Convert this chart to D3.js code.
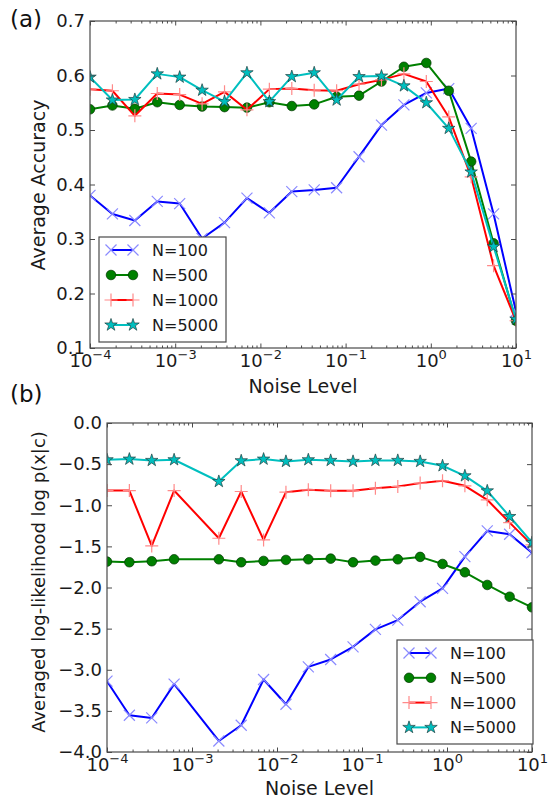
<!DOCTYPE html>
<html>
<head>
<meta charset="utf-8">
<script src="https://cdn.jsdelivr.net/npm/d3@7"></script>
<style>
  html, body { margin: 0; padding: 0; background: #fff; }
  svg { display: block; font-family: "DejaVu Sans", sans-serif; }
</style>
</head>
<body>
<svg id="fig" width="550" height="799"></svg>
<script>
// Noise levels (log-spaced from 1e-4 to 1e1)
const noiseA = [1.000e-4, 1.833e-4, 3.360e-4, 6.158e-4, 1.129e-3, 2.069e-3, 3.793e-3, 6.952e-3,
                1.274e-2, 2.336e-2, 4.281e-2, 7.848e-2, 0.1438, 0.2637, 0.4833, 0.8859,
                1.624, 2.976, 5.456, 10.0];
// Log-likelihood runs have no entry at 1.129e-3
const noiseB = [1.000e-4, 1.833e-4, 3.360e-4, 6.158e-4, 2.069e-3, 3.793e-3, 6.952e-3,
                1.274e-2, 2.336e-2, 4.281e-2, 7.848e-2, 0.1438, 0.2637, 0.4833, 0.8859,
                1.624, 2.976, 5.456, 10.0];

const seriesNames = ["N=100", "N=500", "N=1000", "N=5000"];

// (a) average accuracy
const acc100  = [0.380, 0.346, 0.334, 0.369, 0.365, 0.301, 0.330, 0.375, 0.348, 0.387,
                 0.390, 0.394, 0.451, 0.509, 0.546, 0.568, 0.576, 0.503, 0.346, 0.167];
const acc500  = [0.538, 0.545, 0.539, 0.551, 0.546, 0.543, 0.542, 0.541, 0.551, 0.544,
                 0.547, 0.561, 0.563, 0.589, 0.616, 0.623, 0.572, 0.442, 0.292, 0.150];
const acc1000 = [0.575, 0.572, 0.526, 0.567, 0.565, 0.548, 0.570, 0.537, 0.575, 0.576,
                 0.573, 0.572, 0.584, 0.592, 0.603, 0.589, 0.524, 0.414, 0.251, 0.150];
const acc5000 = [0.597, 0.555, 0.556, 0.603, 0.597, 0.573, 0.552, 0.605, 0.552, 0.598,
                 0.605, 0.555, 0.598, 0.599, 0.581, 0.550, 0.503, 0.423, 0.286, 0.153];

// (b) averaged log-likelihood log p(x|c)
const ll100  = [-3.139, -3.553, -3.586, -3.175, -3.866, -3.675, -3.118, -3.419, -2.965, -2.875,
                -2.721, -2.509, -2.396, -2.173, -2.010, -1.625, -1.312, -1.352, -1.576];
const ll500  = [-1.685, -1.693, -1.681, -1.657, -1.657, -1.693, -1.677, -1.665, -1.657, -1.649,
                -1.693, -1.673, -1.657, -1.628, -1.714, -1.815, -1.969, -2.112, -2.241];
const ll1000 = [-0.821, -0.821, -1.494, -0.821, -1.401, -0.833, -1.421, -0.841, -0.812, -0.825,
                -0.825, -0.792, -0.772, -0.731, -0.703, -0.764, -0.934, -1.211, -1.482];
const ll5000 = [-0.447, -0.439, -0.455, -0.447, -0.711, -0.459, -0.439, -0.467, -0.447, -0.455,
                -0.467, -0.455, -0.455, -0.467, -0.520, -0.642, -0.825, -1.137, -1.454];

// Axis ticks
const xTicks   = [1e-4, 1e-3, 1e-2, 1e-1, 1e0, 1e1];
const accTicks = [0.1, 0.2, 0.3, 0.4, 0.5, 0.6, 0.7];
const llTicks  = [0.0, -0.5, -1.0, -1.5, -2.0, -2.5, -3.0, -3.5, -4.0];

// Line / marker styles per series
const styles = [
  { line: "#0000ff", marker: "x",      mstroke: "#8a8aff", mfill: "none" },
  { line: "#008000", marker: "circle", mstroke: "#003300", mfill: "#008000" },
  { line: "#ff0000", marker: "plus",   mstroke: "#ff8a8a", mfill: "none" },
  { line: "#00bfbf", marker: "star",   mstroke: "#1f3f3f", mfill: "#00bfbf" }
];

const svg = d3.select("#fig");
const FRAME = "#4a4a4a";

// minor ticks on the log axis: 2..9 × each decade
const xMinor = [];
for (let e = -4; e < 1; e++) for (let k = 2; k <= 9; k++) xMinor.push(k * Math.pow(10, e));

function drawMarker(g, kind, st) {
  if (kind === "x") {
    g.append("path").attr("d", "M-5.5,-5.5L5.5,5.5M-5.5,5.5L5.5,-5.5")
      .attr("stroke", st.mstroke).attr("stroke-width", 1.2).attr("fill", "none");
  } else if (kind === "plus") {
    g.append("path").attr("d", "M-6.5,0H6.5M0,-6.5V6.5")
      .attr("stroke", st.mstroke).attr("stroke-width", 1.2).attr("fill", "none");
  } else if (kind === "circle") {
    g.append("circle").attr("r", 4.8)
      .attr("fill", st.mfill).attr("stroke", st.mstroke).attr("stroke-width", 0.7);
  } else {
    g.append("path").attr("d", d3.symbol(d3.symbolStar, 48)())
      .attr("fill", st.mfill).attr("stroke", st.mstroke).attr("stroke-width", 0.7);
  }
}

function drawPanel(cfg) {
  const { left, right, top, bottom, id } = cfg;
  const x = d3.scaleLog().domain([1e-4, 10]).range([left, right]);
  const y = d3.scaleLinear().domain(cfg.yDomain).range([bottom, top]);

  const clipId = "clip-" + id;
  svg.append("clipPath").attr("id", clipId)
    .append("rect").attr("x", left).attr("y", top)
    .attr("width", right - left).attr("height", bottom - top);

  // series
  const plot = svg.append("g").attr("clip-path", `url(#${clipId})`);
  const line = d3.line().x(d => x(d[0])).y(d => y(d[1]));
  cfg.series.forEach((vals, si) => {
    const st = styles[si];
    const pts = vals.map((v, i) => [cfg.xs[i], v]);
    plot.append("path").datum(pts).attr("d", line)
      .attr("fill", "none").attr("stroke", st.line).attr("stroke-width", 2)
      .attr("stroke-linejoin", "round");
    pts.forEach(p => {
      const mg = plot.append("g").attr("transform", `translate(${x(p[0])},${y(p[1])})`);
      drawMarker(mg, st.marker, st);
    });
  });

  // axes (ticks pointing inward on all four sides)
  const fmtY = d3.format(".1f");
  const gx = svg.append("g").attr("transform", `translate(0,${bottom})`)
    .call(d3.axisBottom(x).tickValues(xTicks).tickSize(-4.5).tickSizeOuter(0).tickFormat(() => ""));
  svg.append("g").attr("transform", `translate(0,${bottom})`)
    .call(d3.axisBottom(x).tickValues(xMinor).tickSize(-2.5).tickSizeOuter(0).tickFormat(() => ""));
  svg.append("g").attr("transform", `translate(0,${top})`)
    .call(d3.axisTop(x).tickValues(xTicks).tickSize(-4.5).tickSizeOuter(0).tickFormat(() => ""));
  svg.append("g").attr("transform", `translate(0,${top})`)
    .call(d3.axisTop(x).tickValues(xMinor).tickSize(-2.5).tickSizeOuter(0).tickFormat(() => ""));
  const gy = svg.append("g").attr("transform", `translate(${left},0)`)
    .call(d3.axisLeft(y).tickValues(cfg.yTicks).tickSize(-5).tickSizeOuter(0).tickPadding(5).tickFormat(fmtY));
  svg.append("g").attr("transform", `translate(${right},0)`)
    .call(d3.axisRight(y).tickValues(cfg.yTicks).tickSize(-5).tickSizeOuter(0).tickFormat(() => ""));

  svg.selectAll(".domain").remove();
  svg.selectAll(".tick line").attr("stroke", FRAME);

  gy.selectAll(".tick text").attr("font-size", 18).attr("fill", "#1a1a1a")
    .attr("font-family", "DejaVu Sans");

  // x tick labels as 10^k
  gx.selectAll(".tick text").each(function (d) {
    const t = d3.select(this);
    t.text(null).attr("y", cfg.xTickBase).attr("dy", null)
      .attr("font-size", 18).attr("fill", "#1a1a1a").attr("font-family", "DejaVu Sans");
    t.append("tspan").text("10");
    const ex = Math.round(Math.log10(d));
    t.append("tspan").attr("dy", -8).attr("font-size", 13)
      .text(ex < 0 ? "\u2212" + Math.abs(ex) : String(ex));
  });

  // frame
  svg.append("rect").attr("x", left).attr("y", top)
    .attr("width", right - left).attr("height", bottom - top)
    .attr("fill", "none").attr("stroke", FRAME).attr("stroke-width", 1.2);

  // axis titles
  svg.append("text").attr("x", (left + right) / 2).attr("y", cfg.xLabelY)
    .attr("text-anchor", "middle").attr("font-size", 19).attr("fill", "#1a1a1a")
    .text("Noise Level");
  svg.append("text")
    .attr("transform", `translate(${cfg.yLabelX},${cfg.yLabelY}) rotate(-90)`)
    .attr("text-anchor", "middle").attr("font-size", cfg.yLabelSize).attr("fill", "#1a1a1a")
    .text(cfg.yLabel);

  // panel tag
  svg.append("text").attr("x", 10).attr("y", cfg.tagY)
    .attr("font-size", 23).attr("fill", "#111").text(cfg.tag);

  // legend
  const L = cfg.legend;
  const lg = svg.append("g");
  lg.append("rect").attr("x", L.x).attr("y", L.y).attr("width", L.w).attr("height", L.h)
    .attr("fill", "#fff").attr("stroke", FRAME).attr("stroke-width", 1.2);
  seriesNames.forEach((name, i) => {
    const st = styles[i];
    const cy = L.row0 + i * L.rowStep;
    lg.append("line").attr("x1", L.m1).attr("x2", L.m2).attr("y1", cy).attr("y2", cy)
      .attr("stroke", st.line).attr("stroke-width", 2);
    [L.m1, L.m2].forEach(mx => {
      drawMarker(lg.append("g").attr("transform", `translate(${mx},${cy})`), st.marker, st);
    });
    lg.append("text").attr("x", L.tx).attr("y", cy + 6)
      .attr("font-size", 16).attr("fill", "#1a1a1a").text(name);
  });
}

drawPanel({
  id: "a", left: 90, right: 516, top: 21, bottom: 348,
  xs: noiseA, series: [acc100, acc500, acc1000, acc5000],
  yDomain: [0.1, 0.7], yTicks: accTicks,
  xTickBase: 19, xLabelY: 393,
  yLabel: "Average Accuracy", yLabelX: 45, yLabelY: 185, yLabelSize: 19,
  tag: "(a)", tagY: 27,
  legend: { x: 99, y: 237, w: 127, h: 105, row0: 250, rowStep: 25, m1: 111, m2: 133, tx: 152 }
});

drawPanel({
  id: "b", left: 107, right: 532, top: 423, bottom: 752,
  xs: noiseB, series: [ll100, ll500, ll1000, ll5000],
  yDomain: [-4, 0], yTicks: llTicks,
  xTickBase: 18.5, xLabelY: 795,
  yLabel: "Averaged log-likelihood log p(x|c)", yLabelX: 45, yLabelY: 582, yLabelSize: 18,
  tag: "(b)", tagY: 402,
  legend: { x: 397, y: 640, w: 136, h: 104, row0: 653, rowStep: 24.8, m1: 409, m2: 431, tx: 450 }
});
</script>
</body>
</html>
